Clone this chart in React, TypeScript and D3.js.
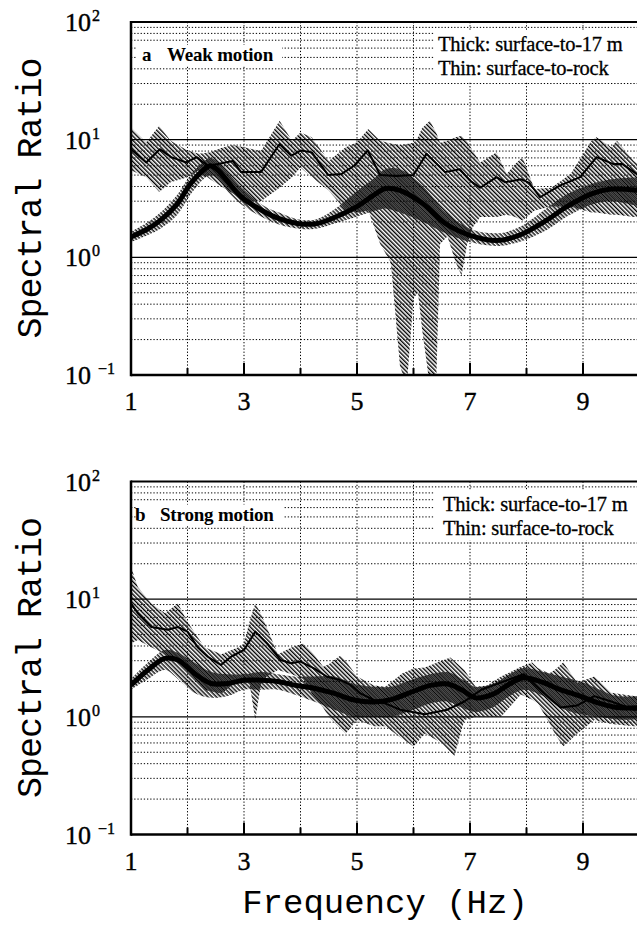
import React from "react";
import * as d3 from "d3";

// ---------- Panel a (weak motion) ----------
const aThinF = [1.0, 1.27, 1.51, 1.71, 1.98, 2.16, 2.36, 2.54, 2.8, 2.95, 3.3, 3.63, 3.84, 4.01, 4.2, 4.49, 4.72, 4.95, 5.19, 5.41, 5.7, 6.0, 6.23, 6.56, 6.82, 7.0, 7.18, 7.47, 7.62, 7.91, 8.05, 8.24, 8.59, 8.95, 9.24, 9.54, 9.7, 10.0];
const aThinV = [8.3, 6.4, 8.3, 7.1, 6.4, 7.1, 6.0, 6.2, 6.6, 5.3, 5.3, 9.2, 7.3, 8.1, 7.8, 5.0, 5.1, 6.0, 8.1, 5.0, 4.9, 5.0, 7.6, 5.3, 5.6, 4.5, 3.9, 4.8, 4.35, 4.6, 4.3, 3.24, 4.07, 4.8, 7.1, 6.2, 6.2, 4.9];

const aThinBandF = [1.0, 1.27, 1.5, 1.7, 2.0, 2.2, 2.4, 2.6, 2.8, 3.0, 3.3, 3.63, 3.85, 4.0, 4.2, 4.5, 4.8, 5.0, 5.2, 5.41, 5.6, 5.76, 5.88, 6.0, 6.08, 6.15, 6.29, 6.4, 6.47, 6.6, 6.75, 6.85, 6.95, 7.05, 7.18, 7.47, 7.65, 7.8, 7.93, 8.14, 8.44, 8.78, 9.15, 9.24, 9.5, 9.6, 9.9, 10.0];
const aThinBandLo = [5.5, 4.8, 3.6, 4.35, 4.8, 5.5, 4.6, 4.0, 3.5, 3.0, 3.0, 3.9, 4.8, 5.8, 4.8, 3.7, 2.5, 2.4, 2.5, 1.3, 0.9, 0.12, 0.08, 0.45, 0.5, 0.25, 0.08, 0.08, 1.3, 1.5, 0.9, 0.7, 1.3, 1.8, 2.2, 2.2, 2.3, 2.2, 2.06, 2.5, 2.7, 2.7, 2.4, 2.4, 2.3, 2.3, 2.2, 2.2];
const aThinBandHi = [12.7, 9.5, 13.1, 9.8, 8.1, 7.6, 7.8, 8.5, 9.0, 8.6, 8.0, 14.5, 9.8, 11.5, 10.5, 6.6, 8.6, 9.5, 12.3, 9.8, 9.3, 9.0, 9.2, 9.4, 10.5, 12.5, 14.5, 11.5, 9.4, 9.8, 10.5, 10.8, 9.6, 8.0, 6.4, 7.8, 5.1, 6.2, 7.1, 3.8, 3.9, 5.1, 9.8, 10.5, 8.6, 9.8, 6.6, 6.0];

const aThickF = [1.0, 1.3, 1.52, 1.82, 2.05, 2.3, 2.4, 2.54, 2.72, 2.96, 3.32, 3.62, 3.97, 4.27, 4.62, 4.98, 5.33, 5.5, 5.76, 6.17, 6.57, 7.0, 7.47, 7.87, 8.35, 8.7, 9.15, 9.5, 10.0];
const aThickV = [1.49, 1.75, 2.06, 2.85, 4.2, 5.6, 6.0, 5.5, 4.35, 3.24, 2.5, 2.13, 1.93, 1.93, 2.2, 2.67, 3.46, 3.85, 3.7, 2.85, 1.93, 1.54, 1.39, 1.54, 2.06, 2.67, 3.46, 3.8, 3.7];
const aThickLo = [1.35, 1.55, 1.75, 2.3, 3.4, 4.7, 5.0, 4.6, 3.6, 2.8, 2.2, 1.9, 1.75, 1.75, 1.95, 2.2, 2.5, 2.6, 2.4, 2.0, 1.6, 1.35, 1.25, 1.35, 1.7, 2.2, 2.8, 3.0, 2.7];
const aThickHi = [1.65, 2.0, 2.4, 3.4, 5.0, 6.6, 7.0, 6.5, 5.2, 3.9, 2.8, 2.4, 2.1, 2.1, 2.6, 3.6, 4.8, 5.6, 5.6, 4.0, 2.4, 1.75, 1.6, 1.8, 2.6, 3.4, 4.2, 4.6, 4.8];

// ---------- Panel b (strong motion) ----------
const bThinF = [1.0, 1.12, 1.36, 1.65, 1.83, 2.0, 2.18, 2.36, 2.59, 2.77, 3.0, 3.2, 3.41, 3.65, 3.83, 4.0, 4.24, 4.47, 4.71, 4.89, 5.06, 5.3, 5.5, 5.76, 6.2, 6.6, 6.9, 7.2, 7.6, 7.95, 8.3, 8.6, 8.9, 9.2, 9.5, 9.9, 10.0];
const bThinV = [9.2, 7.6, 5.8, 5.5, 5.8, 5.3, 3.9, 3.24, 2.76, 3.24, 3.7, 5.3, 4.2, 3.04, 2.85, 2.95, 2.58, 2.19, 2.05, 1.86, 1.58, 1.39, 1.3, 1.15, 1.05, 1.15, 1.35, 1.7, 2.0, 2.3, 1.6, 1.2, 1.25, 1.5, 1.35, 1.15, 1.15];

const bThinBandF = [1.0, 1.12, 1.36, 1.6, 1.83, 2.0, 2.3, 2.6, 2.9, 3.0, 3.1, 3.2, 3.3, 3.4, 3.6, 3.85, 4.05, 4.2, 4.4, 4.5, 4.7, 4.8, 5.0, 5.3, 5.5, 5.8, 6.0, 6.2, 6.5, 6.65, 6.72, 6.9, 7.1, 7.3, 7.55, 7.9, 8.1, 8.2, 8.4, 8.5, 8.65, 8.9, 9.2, 9.5, 9.9, 10.0];
const bThinBandLo = [4.2, 4.5, 3.9, 3.4, 2.9, 2.5, 1.69, 1.58, 2.05, 2.0, 1.9, 0.94, 1.9, 2.2, 2.5, 2.3, 2.1, 1.58, 1.2, 1.0, 0.8, 0.72, 0.94, 0.83, 0.83, 0.65, 0.56, 0.72, 0.6, 0.5, 0.46, 0.94, 1.0, 1.0, 1.0, 1.55, 1.4, 1.3, 0.9, 0.72, 0.56, 0.72, 0.94, 0.87, 0.83, 0.83];
const bThinBandHi = [18.9, 12.7, 9.2, 7.6, 9.2, 6.4, 3.9, 3.4, 3.9, 4.2, 6.5, 9.2, 7.5, 5.8, 3.4, 3.9, 4.2, 3.6, 2.66, 2.8, 3.3, 3.0, 2.2, 1.85, 1.8, 2.34, 2.58, 2.62, 3.0, 3.2, 3.0, 2.5, 1.8, 1.85, 2.2, 2.66, 2.9, 2.6, 2.34, 2.5, 2.9, 1.95, 2.2, 1.6, 1.5, 1.5];

const bThickF = [1.0, 1.3, 1.6, 1.83, 2.12, 2.42, 2.71, 3.0, 3.3, 3.6, 3.89, 4.24, 4.6, 4.95, 5.3, 5.6, 6.0, 6.3, 6.6, 6.85, 7.1, 7.4, 7.7, 7.95, 8.3, 8.6, 8.95, 9.3, 9.6, 10.0];
const bThickV = [1.86, 2.5, 3.14, 3.04, 2.34, 1.92, 1.92, 2.05, 2.05, 2.0, 1.86, 1.75, 1.58, 1.39, 1.34, 1.4, 1.65, 1.85, 1.9, 1.7, 1.45, 1.55, 1.9, 2.15, 1.95, 1.7, 1.5, 1.3, 1.2, 1.2];
const bThickLo = [1.7, 2.1, 2.5, 2.1, 1.6, 1.45, 1.5, 1.7, 1.7, 1.7, 1.55, 1.35, 1.15, 1.0, 1.0, 1.0, 1.15, 1.3, 1.35, 1.2, 1.1, 1.2, 1.5, 1.7, 1.5, 1.2, 1.05, 1.0, 0.95, 0.95];
const bThickHi = [2.1, 2.9, 3.7, 3.5, 2.9, 2.4, 2.3, 2.3, 2.4, 2.3, 2.2, 2.2, 2.2, 1.9, 1.8, 1.8, 2.1, 2.3, 2.4, 2.1, 1.8, 1.9, 2.3, 2.6, 2.4, 2.2, 2.0, 1.7, 1.5, 1.5];

// ---------- axes ----------
const xTickLabels = [1, 3, 5, 7, 9];
const xGrid = [2, 3, 4, 5, 6, 7, 8, 9, 10];
const yDecadeExps = [-1, 0, 1, 2];

const W = 637;
const H = 925;
const X0 = 131;
const X1 = 639.5;

const xScale = d3.scaleLinear().domain([1, 10]).range([X0, X1]);

type PanelCfg = {
  id: string;
  top: number;
  bottom: number;
  letter: string;
  title: string;
  titleW: number;
  thinF: number[]; thinV: number[];
  bandF: number[]; bandLo: number[]; bandHi: number[];
  thickF: number[]; thickV: number[]; thickLo: number[]; thickHi: number[];
};

const panels: PanelCfg[] = [
  { id: "a", top: 22, bottom: 375, letter: "a", title: "Weak motion", titleW: 150,
    thinF: aThinF, thinV: aThinV, bandF: aThinBandF, bandLo: aThinBandLo, bandHi: aThinBandHi,
    thickF: aThickF, thickV: aThickV, thickLo: aThickLo, thickHi: aThickHi },
  { id: "b", top: 481.5, bottom: 834.5, letter: "b", title: "Strong motion", titleW: 152,
    thinF: bThinF, thinV: bThinV, bandF: bThinBandF, bandLo: bThinBandLo, bandHi: bThinBandHi,
    thickF: bThickF, thickV: bThickV, thickLo: bThickLo, thickHi: bThickHi },
];

const serif = "'Liberation Serif', 'Times New Roman', serif";
const mono = "'Liberation Mono', 'Courier New', monospace";

function Panel({ p }: { p: PanelCfg }) {
  const y = d3.scaleLog().domain([0.1, 100]).range([p.bottom, p.top]);
  const minor: number[] = [];
  [0.1, 1, 10].forEach((d) => {
    for (let k = 2; k <= 9; k++) minor.push(k * d);
  });
  const lineThin = d3.line<number>().x((_, i) => xScale(p.thinF[i])).y((v) => y(v)).curve(d3.curveLinear);
  const lineThick = d3.line<number>().x((_, i) => xScale(p.thickF[i])).y((v) => y(v)).curve(d3.curveCatmullRom);
  const areaThin = d3.area<number>()
    .x((_, i) => xScale(p.bandF[i]))
    .y0((_, i) => y(Math.max(0.05, p.bandLo[i])))
    .y1((_, i) => y(p.bandHi[i]))
    .curve(d3.curveLinear);
  const areaThick = d3.area<number>()
    .x((_, i) => xScale(p.thickF[i]))
    .y0((_, i) => y(p.thickLo[i]))
    .y1((_, i) => y(p.thickHi[i]))
    .curve(d3.curveCatmullRom);
  const clipId = `clip-${p.id}`;
  const off = p.top - 22;
  return (
    <g>
      <defs>
        <clipPath id={clipId}>
          <rect x={X0} y={p.top} width={X1 - X0} height={p.bottom - p.top} />
        </clipPath>
      </defs>
      {/* grid */}
      {minor.map((v) => (
        <line key={"h" + v} x1={X0} x2={X1} y1={y(v)} y2={y(v)} stroke="#000" strokeWidth={1} strokeDasharray="1.3 1.9" />
      ))}
      {[1, 10].map((v) => (
        <line key={"d" + v} x1={X0} x2={X1} y1={y(v)} y2={y(v)} stroke="#000" strokeWidth={1.3} />
      ))}
      {xGrid.map((f) => (
        <line key={"v" + f} x1={xScale(f)} x2={xScale(f)} y1={p.top} y2={p.bottom} stroke="#000" strokeWidth={1} strokeDasharray="1.3 1.9" />
      ))}
      {/* legend boxes */}
      <rect x={136} y={off + 45} width={p.titleW - 4} height={21} fill="#fff" />
      <rect x={434} y={off + 31} width={W - 434} height={50} fill="#fff" />
      <g clipPath={`url(#${clipId})`}>
        <path d={areaThin(p.bandLo) || ""} fill="url(#hatchA)" />
        <path d={areaThick(p.thickLo) || ""} fill="url(#hatchB)" />
        <path d={lineThin(p.thinV) || ""} fill="none" stroke="#000" strokeWidth={2} strokeLinejoin="round" />
        <path d={lineThick(p.thickV) || ""} fill="none" stroke="#000" strokeWidth={5} strokeLinejoin="round" />
      </g>
      {/* frame */}
      <line x1={X0} x2={X1} y1={p.top} y2={p.top} stroke="#000" strokeWidth={2} />
      <line x1={X0} x2={X1} y1={p.bottom} y2={p.bottom} stroke="#000" strokeWidth={2.5} />
      <line x1={X0} x2={X0} y1={p.top - 1} y2={p.bottom + 1.2} stroke="#000" strokeWidth={2.5} />
      {[2, 3, 4, 5, 6, 7, 8, 9].map((f) => (
        <line key={"t" + f} x1={xScale(f)} x2={xScale(f)} y1={p.bottom} y2={p.bottom - (f % 2 === 1 ? 12 : 7)} stroke="#000" strokeWidth={2} />
      ))}
      {/* x tick labels */}
      {xTickLabels.map((f) => (
        <text key={"xl" + f} x={xScale(f)} y={p.bottom + 35} textAnchor="middle" fontFamily={serif} fontSize={26} stroke="#000" strokeWidth={0.4}>{f}</text>
      ))}
      {/* y tick labels */}
      {yDecadeExps.map((e) => (
        <text key={"yl" + e} x={65} y={y(Math.pow(10, e)) + 9} fontFamily={serif} fontSize={26} stroke="#000" strokeWidth={0.4}>
          10<tspan dx={e < 0 ? 7 : 1} dy={-10} fontSize={16}>{e < 0 ? "\u2212" + Math.abs(e) : String(e)}</tspan>
        </text>
      ))}
      {/* y axis title */}
      <text transform={`translate(41,${(p.top + p.bottom) / 2}) rotate(-90)`} textAnchor="middle" fontFamily={mono} fontSize={35} letterSpacing={-1}>Spectral Ratio</text>
      {/* panel labels */}
      <text x={p.id === "a" ? 142 : 135} y={off + 61} fontFamily={serif} fontWeight="bold" fontSize={19}>{p.letter}</text>
      <text x={p.id === "a" ? 167 : 160} y={off + 61} fontFamily={serif} fontWeight="bold" fontSize={19} letterSpacing={-0.2}>{p.title}</text>
      <text x={p.id === "a" ? 438 : 443} y={off + 51} fontFamily={serif} fontSize={20.5} letterSpacing={-0.2} stroke="#000" strokeWidth={0.3}>Thick: surface-to-17 m</text>
      <text x={p.id === "a" ? 438 : 443} y={off + 75} fontFamily={serif} fontSize={20.5} letterSpacing={-0.2} stroke="#000" strokeWidth={0.3}>Thin: surface-to-rock</text>
    </g>
  );
}

export default function App() {
  return (
    <svg width={W} height={H} style={{ position: "absolute", left: 0, top: 0, background: "#fff" }} xmlns="http://www.w3.org/2000/svg">
      <defs>
        <pattern id="hatchA" patternUnits="userSpaceOnUse" width={3} height={3} patternTransform="rotate(-45)">
          <rect x={0} y={0} width={1.4} height={3} fill="#000" />
        </pattern>
        <pattern id="hatchB" patternUnits="userSpaceOnUse" width={3} height={3} patternTransform="rotate(-45)">
          <rect x={1.5} y={0} width={1.4} height={3} fill="#000" />
        </pattern>
      </defs>
      <rect x={0} y={0} width={W} height={H} fill="#fff" />
      {panels.map((p) => (
        <Panel key={p.id} p={p} />
      ))}
      <text x={385} y={913} textAnchor="middle" fontFamily={mono} fontSize={34}>Frequency (Hz)</text>
    </svg>
  );
}
